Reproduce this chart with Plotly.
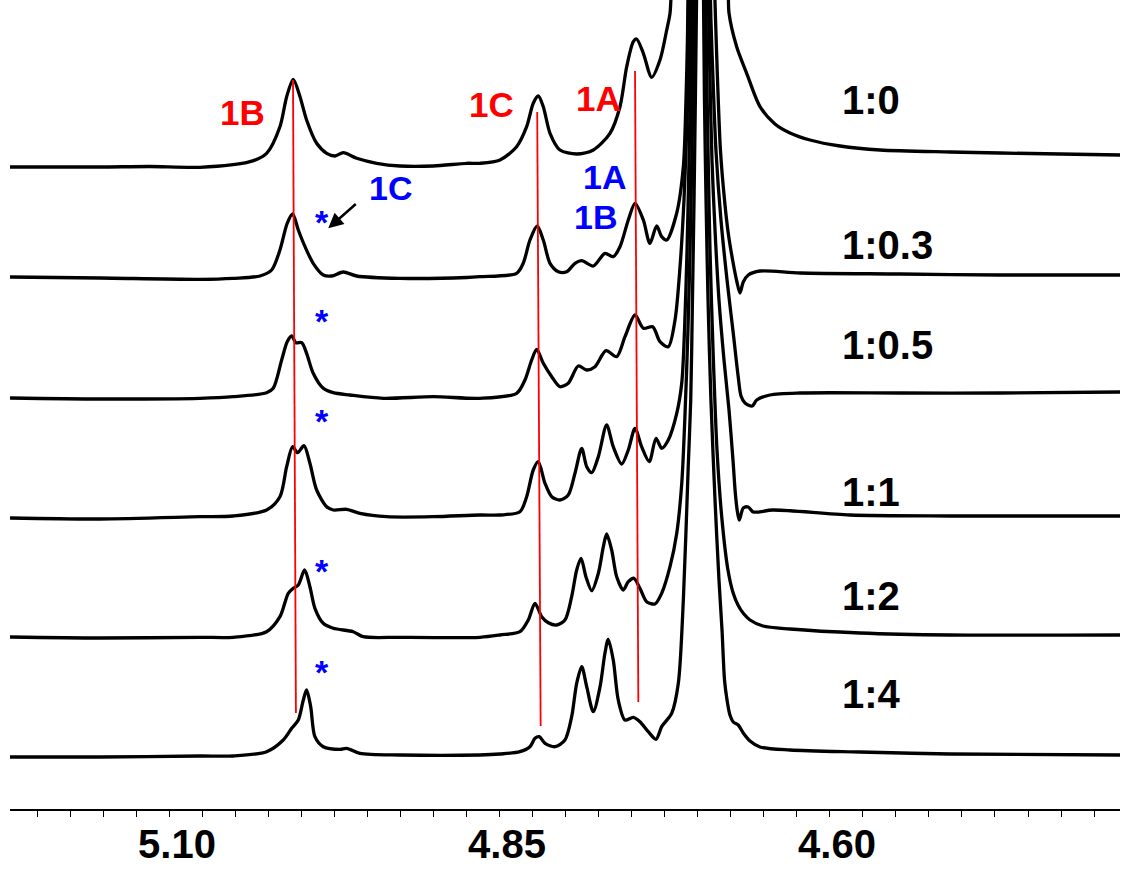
import plotly.graph_objects as go

# ---------------- data (chemical shift in ppm, intensity in arbitrary units) ----------------
ratios = ["1:0", "1:0.3", "1:0.5", "1:1", "1:2", "1:4"]
offsets = [642, 531, 411, 292, 172, 53]   # vertical stacking offsets

ppm_0 = [5.2212, 5.1530, 5.1152, 5.0773, 5.0394, 5.0268, 5.0167, 5.0116, 5.0066, 5.0015, 4.9965, 4.9889,
         4.9813, 4.9750, 4.9687, 4.9586, 4.9434, 4.9258, 4.9005, 4.8752, 4.8652, 4.8500, 4.8374, 4.8298,
         4.8248, 4.8210, 4.8172, 4.8121, 4.8046, 4.7919, 4.7793, 4.7667, 4.7591, 4.7540, 4.7490, 4.7465,
         4.7414, 4.7351, 4.7288, 4.7237, 4.7212, 4.7197, 4.6985, 4.6773, 4.6765, 4.6707, 4.6631, 4.6530,
         4.6417, 4.6303, 4.6152, 4.5924, 4.5621, 4.5091, 4.4712, 4.4258, 4.3803]
int_0 = [0, 0, 0.5, -0.3, 5.3, 13.7, 40.3, 70.3, 87.7, 70.3, 47, 23.7,
         13.7, 11, 14.3, 8.7, 3.7, 1, 1, 3.7, 3.7, 7, 20.3, 40.3,
         63.7, 71, 60.3, 33.7, 17, 13, 17, 33.7, 60.3, 100.3, 125.3, 128,
         113.7, 89.7, 107, 137, 153.7, 187, 420, 187, 154, 120.3, 93.7, 60.3,
         43, 34, 27, 21, 17, 15, 14, 13, 12]

ppm_1 = [5.2212, 5.1530, 5.0773, 5.0521, 5.0318, 5.0230, 5.0167, 5.0112, 5.0071, 5.0028, 4.9977, 4.9915,
         4.9839, 4.9775, 4.9687, 4.9586, 4.9258, 4.8752, 4.8652, 4.8374, 4.8324, 4.8273, 4.8218, 4.8172,
         4.8121, 4.8058, 4.7995, 4.7932, 4.7881, 4.7793, 4.7705, 4.7642, 4.7591, 4.7528, 4.7477, 4.7414,
         4.7364, 4.7313, 4.7275, 4.7237, 4.7161, 4.7111, 4.7091, 4.7080, 4.7072, 4.6985, 4.6879, 4.6867,
         4.6852, 4.6830, 4.6799, 4.6771, 4.6735, 4.6705, 4.6682, 4.6657, 4.6619, 4.6530, 4.6227, 4.5470,
         4.4712, 4.3803]
int_1 = [1, 0, -1.3, -0.3, 2, 8, 28, 54.7, 64, 48, 31.3, 14.7,
         3, 2, 6, 2, -0.3, 0.5, 1.3, 4.7, 14.7, 38, 52, 38,
         14.7, 6.3, 6.3, 14.7, 17.3, 12, 24.7, 21.3, 31.3, 58, 74.7, 58,
         34.7, 52, 41.3, 38, 65, 111.3, 178, 238, 308, 578, 308, 258,
         198, 128, 78, 45, 16, -4, -15, -4, 3, 7, 5, 4,
         3, 3]

ppm_2 = [5.2212, 5.1530, 5.0773, 5.0521, 5.0268, 5.0218, 5.0154, 5.0112, 5.0078, 5.0046, 5.0002, 4.9965,
         4.9915, 4.9839, 4.9763, 4.9637, 4.9384, 4.9005, 4.8652, 4.8374, 4.8311, 4.8260, 4.8222, 4.8172,
         4.8108, 4.8046, 4.7983, 4.7907, 4.7843, 4.7780, 4.7697, 4.7616, 4.7553, 4.7477, 4.7414, 4.7343,
         4.7288, 4.7225, 4.7174, 4.7136, 4.7106, 4.7083, 4.7068, 4.7057, 4.6985, 4.6909, 4.6902, 4.6886,
         4.6864, 4.6826, 4.6780, 4.6733, 4.6697, 4.6674, 4.6644, 4.6589, 4.6555, 4.6455, 4.6227, 4.5470,
         4.4712, 4.3803]
int_2 = [0, -1, -0.3, 1.3, 5.3, 9.7, 38, 56.3, 62, 55.3, 55.3, 44.7,
         24.7, 9.7, 5.3, 3, -0.3, 1.3, -0.3, 4.7, 18, 38, 48.7, 34.7,
         21.3, 11.3, 14.7, 32, 28, 31.3, 47.3, 41.3, 61.3, 83, 69.7, 71.3,
         56.3, 51.3, 78, 131.3, 198, 278, 348, 418, 698, 418, 378, 318,
         248, 178, 118, 65, 23, 2, -5, -8, -2, 3, 5, 5,
         5, 6]

ppm_3 = [5.2212, 5.1530, 5.0773, 5.0521, 5.0268, 5.0167, 5.0116, 5.0071, 5.0033, 4.9985, 4.9940, 4.9889,
         4.9813, 4.9763, 4.9662, 4.9561, 4.9358, 4.9005, 4.8652, 4.8500, 4.8349, 4.8298, 4.8248, 4.8210,
         4.8159, 4.8108, 4.8046, 4.7983, 4.7932, 4.7881, 4.7843, 4.7805, 4.7755, 4.7692, 4.7642, 4.7578,
         4.7528, 4.7477, 4.7427, 4.7369, 4.7318, 4.7275, 4.7225, 4.7161, 4.7123, 4.7102, 4.7083, 4.7068,
         4.7057, 4.7049, 4.7046, 4.6985, 4.6924, 4.6921, 4.6909, 4.6894, 4.6871, 4.6841, 4.6803, 4.6765,
         4.6735, 4.6716, 4.6701, 4.6687, 4.6657, 4.6619, 4.6581, 4.6432, 4.5849, 4.5091, 4.3803]
int_3 = [-1, -2, 0.3, 1, 7, 20.3, 50.3, 70.3, 64.3, 71.3, 53.7, 27,
         10.3, 7, 7.7, 3.7, 0.3, 0.3, 2, 2, 5.3, 20.3, 47, 55.3,
         33.7, 20.3, 17, 22, 43.7, 68.7, 50.3, 44.3, 60.3, 92, 70.3, 53,
         67, 88.7, 70.3, 55.3, 78.7, 68.7, 77, 103.7, 134, 187, 267, 357,
         437, 517, 557, 817, 557, 517, 437, 357, 287, 217, 157, 107,
         57, 22, 5, -3, 9, 10, 5, 7, 2, 1, 1]

ppm_4 = [5.2212, 5.1530, 5.0773, 5.0521, 5.0268, 5.0167, 5.0104, 5.0066, 5.0028, 4.9980, 4.9940, 4.9902,
         4.9839, 4.9763, 4.9612, 4.9536, 4.9258, 4.8652, 4.8500, 4.8349, 4.8286, 4.8235, 4.8184, 4.8134,
         4.8071, 4.8008, 4.7957, 4.7919, 4.7886, 4.7849, 4.7805, 4.7755, 4.7717, 4.7692, 4.7654, 4.7616,
         4.7566, 4.7528, 4.7485, 4.7440, 4.7389, 4.7326, 4.7275, 4.7212, 4.7161, 4.7123, 4.7099, 4.7076,
         4.7057, 4.7042, 4.7032, 4.7027, 4.6985, 4.6943, 4.6936, 4.6924, 4.6909, 4.6886, 4.6856, 4.6818,
         4.6773, 4.6733, 4.6697, 4.6657, 4.6606, 4.6508, 4.6303, 4.5773, 4.5091, 4.3803]
int_4 = [0, -1, -0.3, -0.3, 5.3, 20.3, 43.7, 48.7, 52, 67, 50.3, 28.7,
         13.7, 8.7, 5.3, 0.3, -0.3, -0.3, 2, 5.3, 17, 33.7, 20.3, 14.3,
         12, 17, 40.3, 67, 78.7, 60.3, 46.3, 63.7, 90.3, 103, 87, 60.3,
         47, 55.3, 58.7, 48.7, 35.3, 33, 43.7, 70.3, 103.7, 153.7, 220.3, 307,
         407, 517, 617, 667, 937, 667, 587, 487, 387, 287, 187, 117,
         67, 43.7, 32, 23.7, 17, 11, 8, 4, 2, 2]

ppm_5 = [5.2212, 5.1530, 5.0773, 5.0521, 5.0268, 5.0142, 5.0078, 5.0028, 4.9990, 4.9965, 4.9934, 4.9902,
         4.9839, 4.9712, 4.9662, 4.9561, 4.9258, 4.8652, 4.8500, 4.8349, 4.8273, 4.8235, 4.8202, 4.8159,
         4.8083, 4.8008, 4.7957, 4.7919, 4.7881, 4.7843, 4.7793, 4.7742, 4.7705, 4.7680, 4.7642, 4.7604,
         4.7553, 4.7490, 4.7440, 4.7377, 4.7318, 4.7275, 4.7199, 4.7149, 4.7111, 4.7074, 4.7055, 4.7042,
         4.7030, 4.7019, 4.7011, 4.7008, 4.6985, 4.6962, 4.6958, 4.6951, 4.6939, 4.6924, 4.6902, 4.6871,
         4.6841, 4.6818, 4.6799, 4.6780, 4.6758, 4.6733, 4.6695, 4.6657, 4.6606, 4.6530, 4.6303, 4.5773,
         4.5091, 4.3803]
int_5 = [-1, -1, 0, 0, 4.3, 16, 27.7, 36, 56, 66, 49.3, 19.3,
         9.3, 6.7, 7.7, 2.7, 1, 1, 2, 4.3, 9.3, 17.7, 19.3, 12.7,
         9.3, 16, 39.3, 72.7, 89.3, 69.3, 44.3, 69.3, 102.7, 116.7, 96, 56,
         36, 38.7, 34.3, 24.3, 16.7, 29.3, 42.7, 72.7, 156, 289.3, 356, 456,
         556, 666, 756, 796, 1056, 796, 756, 656, 556, 456, 356, 256,
         176, 126, 76, 56, 41, 34, 31, 23, 15, 9, 6, 4,
         2, 1]

spectra_ppm = [ppm_0, ppm_1, ppm_2, ppm_3, ppm_4, ppm_5]
spectra_int = [int_0, int_1, int_2, int_3, int_4, int_5]

# peak-tracking guide lines (ppm at top, ppm at bottom, stacked height top, bottom)
guide_names = ["1B", "1C", "1A"]
guide_ppm_top = [5.0068, 4.8218, 4.7477]
guide_ppm_bot = [5.0046, 4.8192, 4.7452]
guide_y_top = [729, 697, 738]
guide_y_bot = [96, 83, 107]

# ratio label positions
ratio_label_ppm = 4.5924
ratio_label_y = [709, 564, 464, 317, 213, 115]

# red labels (free host) and blue labels (complexed)
red_labels = ["1B", "1C", "1A"]
red_ppm = [5.0447, 4.8568, 4.7750]
red_y = [697, 705, 711]
blue_labels = ["1C", "1A", "1B"]
blue_ppm = [4.9333, 4.7705, 4.7780]
blue_y = [621, 632, 592]
star_ppm = 4.9849
star_y = [594, 495, 395, 245, 144]

tick_vals = [5.10, 4.85, 4.60]
tick_text = ["5.10", "4.85", "4.60"]

FONT = "Liberation Sans, Arial, sans-serif"

fig = go.Figure()
for p, v, off in zip(spectra_ppm, spectra_int, offsets):
    fig.add_trace(go.Scatter(x=p, y=[off + i for i in v], mode="lines",
                             line=dict(color="black", width=3.3, shape="spline", smoothing=0.8),
                             showlegend=False, hoverinfo="skip"))

for xt, xb, yt, yb in zip(guide_ppm_top, guide_ppm_bot, guide_y_top, guide_y_bot):
    fig.add_trace(go.Scatter(x=[xt, xb], y=[yt, yb], mode="lines",
                             line=dict(color="#ff0000", width=1.8),
                             showlegend=False, hoverinfo="skip"))

ann = []
for t, y in zip(ratios, ratio_label_y):
    ann.append(dict(x=ratio_label_ppm, y=y, text=t, xanchor="left", yanchor="middle",
                    showarrow=False, font=dict(family=FONT, size=40, color="black", weight="bold")))
for t, x, y in zip(red_labels, red_ppm, red_y):
    ann.append(dict(x=x, y=y, text=t, xanchor="center", yanchor="middle", showarrow=False,
                    font=dict(family=FONT, size=35, color="#ff0000", weight="bold")))
for t, x, y in zip(blue_labels, blue_ppm, blue_y):
    ann.append(dict(x=x, y=y, text=t, xanchor="center", yanchor="middle", showarrow=False,
                    font=dict(family=FONT, size=34, color="#0000ff", weight="bold")))
for y in star_y:
    ann.append(dict(x=star_ppm, y=y - 7, text="*", xanchor="center", yanchor="middle", showarrow=False,
                    font=dict(family=FONT, size=34, color="#0000ff", weight="bold")))
# arrow pointing to 1C shoulder
ann.append(dict(x=4.9801, y=580.7, ax=4.9581, ay=606.3, axref="x", ayref="y", xref="x", yref="y",
                text="", showarrow=True, arrowhead=2, arrowsize=1.2, arrowwidth=2.5, arrowcolor="black"))

fig.update_layout(
    width=1122, height=869,
    margin=dict(l=10, r=2, t=0, b=60, autoexpand=False),
    paper_bgcolor="white", plot_bgcolor="white",
    annotations=ann,
    xaxis=dict(range=[5.2212, 4.3803], showgrid=False, zeroline=False, automargin=False,
               showline=True, linecolor="black", linewidth=1.5,
               tickvals=tick_vals, ticktext=tick_text, ticks="outside", ticklen=6,
               tickwidth=1.3, tickcolor="black", ticklabelshift=-7, ticklabelstandoff=-7,
               tickfont=dict(family=FONT, size=40, color="black", weight="bold"),
               minor=dict(tick0=4.60, dtick=0.025, ticks="outside", ticklen=6,
                          tickwidth=1.3, tickcolor="black", showgrid=False)),
    yaxis=dict(range=[0, 809], visible=False, showgrid=False, zeroline=False, automargin=False),
)

fig.write_html("out.html")
